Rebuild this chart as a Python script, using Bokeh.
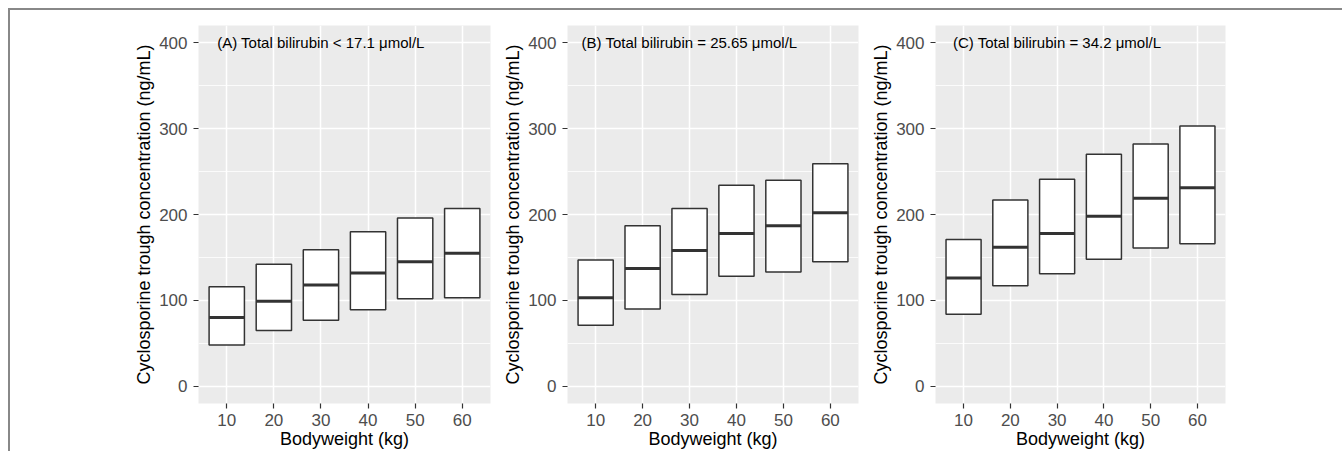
from bokeh.plotting import figure
from bokeh.models import Range1d, FixedTicker, Label, ColumnDataSource
from bokeh.layouts import row
from bokeh.transform import dodge
from bokeh.embed import file_html
from bokeh.resources import INLINE

bodyweight = [10, 20, 30, 40, 50, 60]
y_ticks = [0, 100, 200, 300, 400]
y_minor = [50, 150, 250, 350]

a_lower = [48, 65, 77, 89, 102, 103]
a_median = [80, 99, 118, 132, 145, 155]
a_upper = [116, 142, 159, 180, 196, 207]

b_lower = [71, 90, 107, 128, 133, 145]
b_median = [103, 137, 158, 178, 187, 202]
b_upper = [147, 187, 207, 234, 240, 259]

c_lower = [84, 117, 131, 148, 161, 166]
c_median = [126, 162, 178, 198, 219, 231]
c_upper = [171, 217, 241, 270, 282, 303]

titles = ["(A) Total bilirubin < 17.1 μmol/L",
          "(B) Total bilirubin = 25.65 μmol/L",
          "(C) Total bilirubin = 34.2 μmol/L"]

FONT = "Liberation Sans"
BOX_W = 7.5


def panel(title, lower, median, upper, width, mbl, mbr):
    p = figure(width=width, height=441, x_range=Range1d(4, 66), y_range=Range1d(-20, 420),
               output_backend="svg", toolbar_location=None,
               min_border_left=mbl, min_border_right=mbr, min_border_top=15, min_border_bottom=48)
    p.background_fill_color = "#EBEBEB"
    p.border_fill_color = "white"
    p.outline_line_color = None

    xt = FixedTicker(ticks=bodyweight, minor_ticks=[])
    yt = FixedTicker(ticks=y_ticks, minor_ticks=y_minor)
    p.xaxis.ticker = xt
    p.yaxis.ticker = yt
    p.xgrid.ticker = xt
    p.ygrid.ticker = yt

    for g in (p.xgrid, p.ygrid):
        g.grid_line_color = "white"
        g.grid_line_width = 1.5
    p.ygrid.minor_grid_line_color = "white"
    p.ygrid.minor_grid_line_width = 0.8

    for ax in (p.xaxis, p.yaxis):
        ax.axis_line_color = None
        ax.major_tick_line_color = "#333333"
        ax.major_tick_line_width = 1.2
        ax.major_tick_in = 0
        ax.major_tick_out = 5
        ax.minor_tick_line_color = None
        ax.major_label_text_color = "#4D4D4D"
        ax.major_label_text_font = FONT
        ax.major_label_text_font_size = "17px"
        ax.axis_label_text_font = FONT
        ax.axis_label_text_font_size = "18px"
        ax.axis_label_text_font_style = "normal"
        ax.axis_label_text_color = "black"
    p.xaxis.major_label_standoff = 5
    p.xaxis.axis_label_standoff = 0
    p.yaxis.major_label_standoff = 6
    p.yaxis.axis_label_standoff = 2
    p.xaxis.axis_label = "Bodyweight (kg)"
    p.yaxis.axis_label = "Cyclosporine trough concentration (ng/mL)"

    src = ColumnDataSource(dict(x=bodyweight, lower=lower, median=median, upper=upper))
    p.vbar(x="x", width=BOX_W, bottom="lower", top="upper", source=src,
           fill_color="white", line_color="#333333", line_width=1.5)
    p.segment(x0=dodge("x", -BOX_W / 2), x1=dodge("x", BOX_W / 2), y0="median", y1="median",
              source=src, line_color="#333333", line_width=3)

    p.add_layout(Label(x=30, y=400, text=title, text_align="center", text_baseline="middle",
                       text_font=FONT, text_font_size="15px", text_color="black"))
    return p


pa = panel(titles[0], a_lower, a_median, a_upper, 490, 188, 10)
pb = panel(titles[1], b_lower, b_median, b_upper, 368, 67, 10)
pc = panel(titles[2], c_lower, c_median, c_upper, 474, 65, 117)

layout = row(pa, pb, pc, styles={"border-top": "2px solid #888888",
                                 "border-left": "2px solid #888888",
                                 "margin-top": "8px", "margin-left": "8px",
                                 "margin-bottom": "-8px"})

open("out.html", "w").write(file_html(layout, INLINE))
